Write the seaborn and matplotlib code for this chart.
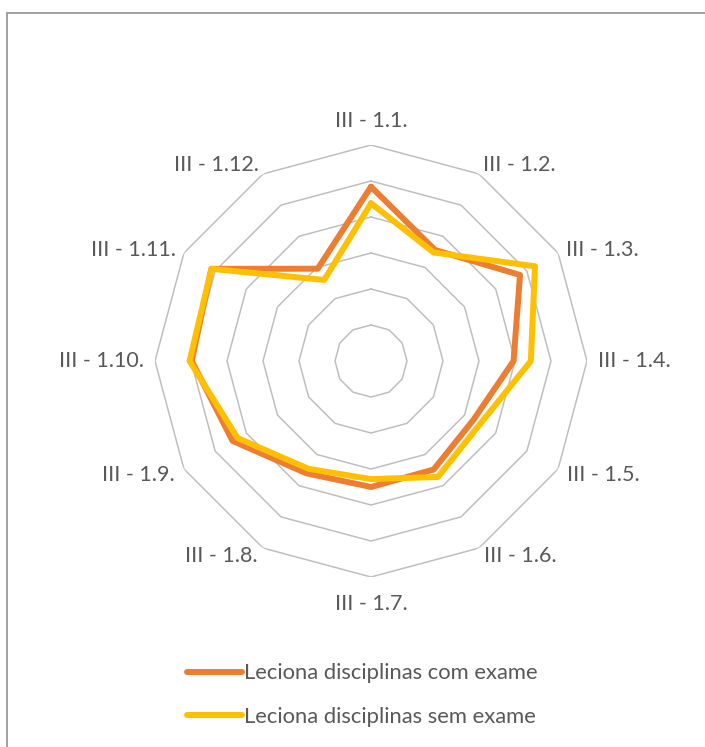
import numpy as np
import pandas as pd
import matplotlib
matplotlib.use("Agg")
import matplotlib.pyplot as plt
from matplotlib.lines import Line2D
import seaborn as sns

categories = ["III - 1.1.", "III - 1.2.", "III - 1.3.", "III - 1.4.", "III - 1.5.", "III - 1.6.",
              "III - 1.7.", "III - 1.8.", "III - 1.9.", "III - 1.10.", "III - 1.11.", "III - 1.12."]
com_exame = [2.42, 1.78, 2.39, 1.98, 1.64, 1.74, 1.75, 1.80, 2.22, 2.49, 2.56, 1.48]
sem_exame = [2.19, 1.74, 2.63, 2.22, 1.75, 1.86, 1.64, 1.73, 2.14, 2.52, 2.56, 1.30]
series_names = ["Leciona disciplinas com exame", "Leciona disciplinas sem exame"]
grid_levels = [0.5, 1.0, 1.5, 2.0, 2.5, 3.0]
r_max = 3.0

sns.set_theme(style="white")
plt.rcParams["font.family"] = ["Lato", "DejaVu Sans"]

W, H = 705, 747
fig = plt.figure(figsize=(W / 100, H / 100), dpi=100)
fig.patch.set_facecolor("white")

cx, cy, R = 371, 361, 216
ax = fig.add_axes([(cx - R) / W, (H - cy - R) / H, 2 * R / W, 2 * R / H], projection="polar")
ax.set_theta_zero_location("N")
ax.set_theta_direction(-1)

n = len(categories)
theta = np.linspace(0, 2 * np.pi, n, endpoint=False)
theta_closed = np.append(theta, 2 * np.pi)

rows = []
for name, vals in zip(series_names, [com_exame, sem_exame]):
    vc = list(vals) + [vals[0]]
    for t, v in zip(theta_closed, vc):
        rows.append({"theta": t, "value": v, "serie": name})
df = pd.DataFrame(rows)

palette = {series_names[0]: "#ED7D31", series_names[1]: "#FFC000"}
sns.lineplot(data=df, x="theta", y="value", hue="serie", hue_order=series_names,
             palette=palette, sort=False, estimator=None, linewidth=4.3,
             legend=False, ax=ax, zorder=3)
handles = list(ax.lines[:2])
for h in handles:
    h.set_solid_joinstyle("round")
    h.set_solid_capstyle("round")

# polygonal grid
for lvl in grid_levels:
    ax.plot(theta_closed, [lvl] * (n + 1), color="#BFBFBF", lw=1.1, zorder=1)

ax.set_ylim(0, r_max)
ax.grid(False)
ax.set_xticks([])
ax.set_yticks([])
ax.spines["polar"].set_visible(False)
ax.set_xlabel("")
ax.set_ylabel("")
ax.patch.set_alpha(0)

# category labels
offsets_px = {0: (0, 24), 1: (4, 9), 2: (8, 3), 3: (11, 0), 4: (9, -6), 5: (5, -8), 6: (0, -27)}
for i, (t, lab) in enumerate(zip(theta, categories)):
    j = i if i <= 6 else 12 - i
    dx, dy = offsets_px[j]
    if i in (0, 6):
        ha = "center"
    elif i < 6:
        ha = "left"
    else:
        ha = "right"
        dx = -dx
    ax.annotate(lab, xy=(t, r_max), xytext=(dx * 0.72, dy * 0.72), textcoords="offset points",
                ha=ha, va="center", fontsize=15.5, color="#595959", annotation_clip=False)

leg = fig.legend(handles=handles, labels=series_names, loc="center left",
                 bbox_to_anchor=(187 / W, 1 - 695 / H), frameon=False,
                 fontsize=15.8, handlelength=2.5, handletextpad=0.12,
                 labelspacing=1.05, borderpad=0, borderaxespad=0)
for t in leg.get_texts():
    t.set_color("#595959")

# outer chart border (partially visible)
fig.add_artist(Line2D([7 / W, 1.0], [1 - 13 / H, 1 - 13 / H], color="#9A9A9A", lw=1.3))
fig.add_artist(Line2D([7 / W, 7 / W], [1 - 13 / H, 0.0], color="#9A9A9A", lw=1.3))

fig.savefig("out.png", dpi=100, facecolor="white")
